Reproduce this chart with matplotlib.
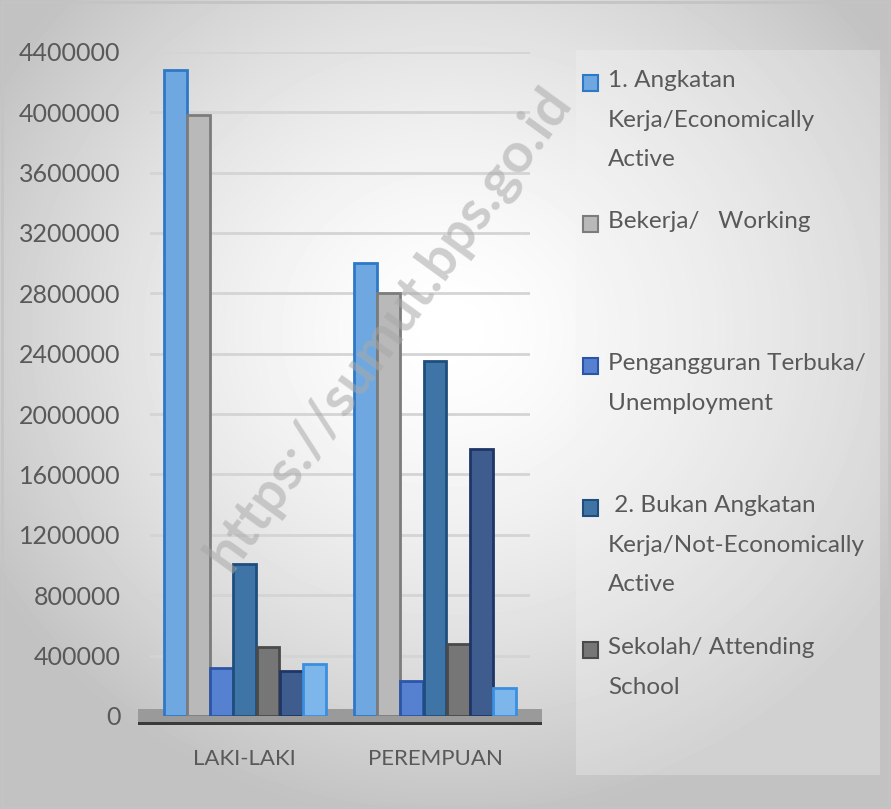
import numpy as np
import matplotlib.pyplot as plt
from matplotlib.patches import Rectangle

# data
groups = ['LAKI-LAKI', 'PEREMPUAN']
series = ['1. Angkatan\nKerja/Economically\nActive',
          'Bekerja/   Working',
          'Pengangguran Terbuka/\nUnemployment',
          ' 2. Bukan Angkatan\nKerja/Not-Economically\nActive',
          'Sekolah/ Attending\nSchool',
          'Mengurus Rumah Tangga/ Housekeeping',
          'Lainnya/ Others']
angkatan_kerja = [4280000, 3000000]
bekerja = [3980000, 2800000]
pengangguran = [320000, 230000]
bukan_ak = [1010000, 2350000]
sekolah = [460000, 480000]
rumah_tangga = [300000, 1770000]
lainnya = [345000, 185000]
values = [angkatan_kerja, bekerja, pengangguran, bukan_ak, sekolah, rumah_tangga, lainnya]

faces = ['#6fa8e0', '#b9b9b9', '#5581d0', '#3f74a6', '#767676', '#3f5c8e', '#7db6ea']
edges = ['#2f78c8', '#7c7c7c', '#2c55a8', '#1f4e7c', '#4a4a4a', '#1f3567', '#3a8fe0']
txt = '#595959'

plt.rcParams['font.family'] = ['Lato', 'DejaVu Sans']

fig = plt.figure(figsize=(8.91, 8.09), dpi=100)

# background gradient
bg = fig.add_axes([0, 0, 1, 1], zorder=-10)
yy, xx = np.mgrid[0:809, 0:891]
r = np.sqrt(((xx - 450) / 560.0) ** 2 + ((yy - 330) / 520.0) ** 2)
shade = np.clip(1.0 - 0.26 * r ** 1.5, 0.76, 1.0)
bg.imshow(shade, cmap='gray', vmin=0, vmax=1, aspect='auto', extent=[0, 891, 809, 0])
bg.add_patch(Rectangle((576, 50), 304, 725, facecolor='#f4f4f4', alpha=0.3, edgecolor='none'))
bg.add_patch(Rectangle((2, 2), 887, 805, facecolor='none', edgecolor='#c4c4c4', lw=2))
bg.set_xlim(0, 891)
bg.set_ylim(809, 0)
bg.axis('off')

ax = fig.add_axes([0.168, 0.115, 0.427, 0.821])
ax.set_facecolor('none')
x = np.arange(len(groups))
w = 0.122
n = len(values)
for i, v in enumerate(values):
    ax.bar(x + (i - (n - 1) / 2) * w, v, w * 0.98, color=faces[i], edgecolor=edges[i],
           linewidth=2, zorder=3)

ax.set_xlim(-0.5, 1.5)
ax.set_ylim(0, 4400000)
ax.set_yticks(np.arange(0, 4400001, 400000))
ax.set_yticklabels([str(t) for t in range(0, 4400001, 400000)])
ax.yaxis.grid(True, color='#d4d4d4', linewidth=2)
ax.set_axisbelow(True)
ax.set_xticks(x)
ax.set_xticklabels(groups)
ax.tick_params(axis='y', length=0, pad=21, labelsize=18, labelcolor=txt)
ax.tick_params(axis='x', length=0, pad=24, labelsize=16, labelcolor=txt)
for s in ax.spines.values():
    s.set_visible(False)

# floor plate
ax.add_patch(Rectangle((-0.03, -0.012), 1.06, 0.022, transform=ax.transAxes,
                       facecolor='#9a9a9a', edgecolor='none', clip_on=False, zorder=1))
ax.add_patch(Rectangle((-0.03, -0.014), 1.06, 0.005, transform=ax.transAxes,
                       facecolor='#3a3a3a', edgecolor='none', clip_on=False, zorder=2))

# legend (first five series visible)
tops = [83, 224, 366, 508, 650]
for i in range(5):
    y = 1 - tops[i] / 809
    fig.patches.append(Rectangle((583 / 891, y - 8 / 809), 15 / 891, 16 / 809,
                                 transform=fig.transFigure, facecolor=faces[i],
                                 edgecolor=edges[i], lw=1.5))
    fig.text(608 / 891, y + 13 / 809, series[i], ha='left', va='top', fontsize=17.5,
             color=txt, linespacing=2.1)

# watermark
fig.text(388 / 891, 1 - 328 / 809, 'https://sumut.bps.go.id', rotation=54, ha='center',
         va='center', fontsize=40, fontweight='bold', color='#a8a8a8', alpha=0.55)

fig.savefig('out.png', dpi=100)
